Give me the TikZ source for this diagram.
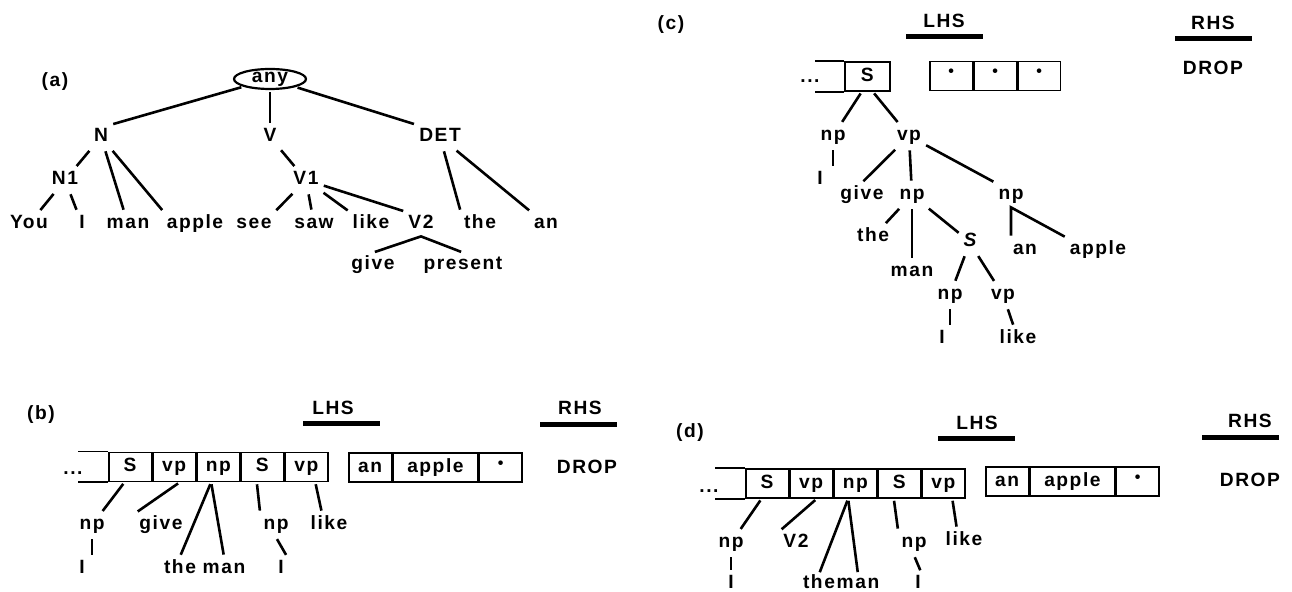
\documentclass[tikz,border=0pt]{standalone}
\usepackage{fontspec}
\setmainfont{Liberation Sans}[LetterSpace=8]
\usetikzlibrary{positioning,shapes.geometric}

\newcommand{\stardot}{\raisebox{2pt}{\fontsize{8}{8}\selectfont•}}

\begin{document}
\begin{tikzpicture}[x=0.5pt,y=-0.5pt]
\tikzset{
  word/.style={font=\bfseries\fontsize{9.6}{10}\selectfont,inner sep=1.5pt,text height=7pt,text depth=2pt},
  lowword/.style={word,inner sep=0pt,text depth=0.5pt},
  rootnode/.style={word,ellipse,draw,line width=1.1pt,minimum width=36pt,minimum height=10pt,inner sep=0pt,text height=5.2pt,text depth=1.6pt},
  cell/.style={word,draw,line width=0.8pt,minimum width=21.25pt,minimum height=14.5pt,inner sep=0pt},
  widecell/.style={cell,minimum width=42.5pt},
  rulebar/.style={fill,inner sep=0pt,minimum height=2.5pt,minimum width=38.5pt},
  branch/.style={line width=1.3pt,shorten >=1pt,shorten <=1pt},
  stripline/.style={line width=0.8pt}
}
\path[use as bounding box,fill=white] (0,0) rectangle (1292,592);
% (a) the category tree
\node[word] (a_lbl) at (55,82) {(a)};
\node[rootnode] (a_any) at (270,79) {any};
\node[word] (a_N) at (101,137) {N};
\node[word] (a_V) at (270,137) {V};
\node[word] (a_DET) at (440,137) {DET};
\node[word] (a_N1) at (65,180) {N1};
\node[word] (a_V1) at (306,180) {V1};
\node[word] (a_You) at (29,224) {You};
\node[word] (a_I) at (82,224) {I};
\node[word] (a_man) at (128,224) {man};
\node[word] (a_apple) at (195,224) {apple};
\node[word] (a_see) at (254,224) {see};
\node[word] (a_saw) at (314,224) {saw};
\node[word] (a_like) at (371,224) {like};
\node[word] (a_V2) at (421,224) {V2};
\node[word] (a_the) at (480,224) {the};
\node[word] (a_an) at (546,224) {an};
\node[word] (a_give) at (373,265) {give};
\node[word] (a_present) at (463,265) {present};
\draw[branch] (a_any) -- (a_N.north east);
\draw[branch] (a_any) -- (a_V);
\draw[branch] (a_any) -- (a_DET.north west);
\draw[branch] (a_N) -- (a_N1);
\draw[branch] (a_N) -- (a_man);
\draw[branch] (a_N) -- (a_apple.north west);
\draw[branch] (a_N1) -- (a_You);
\draw[branch] (a_N1) -- (a_I);
\draw[branch] (a_V) -- (a_V1);
\draw[branch] (a_V1) -- (a_see.north east);
\draw[branch] (a_V1) -- (a_saw);
\draw[branch] (a_V1) -- (a_like.north west);
\draw[branch] (a_V1) -- (a_V2.north west);
\draw[branch] (a_DET) -- (a_the.north west);
\draw[branch] (a_DET) -- (a_an.north west);
\draw[branch] (a_give.north) -- (a_V2.south) -- (a_present.north);
% (c) stack with one S
\node[word] (c_lbl) at (671,25) {(c)};
\node[word] (c_lhs) at (944,23) {LHS};
\node[rulebar] (c_lhsbar) at (944,37) {};
\node[word] (c_rhs) at (1213,25) {RHS};
\node[rulebar] (c_rhsbar) at (1213,39) {};
\node[word] (c_drop) at (1213,70) {DROP};
\node[cell,minimum width=22.5pt,anchor=west] (c_S) at (844,76.5) {S};
\draw[stripline] (c_S.north west) -- +(-29,0) (c_S.south west) -- +(-29,0);
\node[word,anchor=base] (c_dots) at (810,83) {...};
\node[cell,anchor=west] (c_q1) at (929,76) {\stardot};
\node[cell,right=0pt of c_q1] (c_q2) {\stardot};
\node[cell,right=0pt of c_q2] (c_q3) {\stardot};
\node[word] (c_np1) at (833,136) {np};
\node[word] (c_vp1) at (909,136) {vp};
\node[word] (c_I1) at (820,180) {I};
\node[word] (c_give) at (862,195) {give};
\node[word] (c_np2) at (912,195) {np};
\node[word] (c_np3) at (1011,195) {np};
\node[word] (c_the) at (873,237) {the};
\node[word] (c_man) at (912,272) {man};
\node[word] (c_S2) at (970,242) {\itshape S};
\node[word] (c_an) at (1025,250) {an};
\node[word] (c_apple) at (1098,250) {apple};
\node[word] (c_np4) at (950,295) {np};
\node[word] (c_vp2) at (1003,295) {vp};
\node[word] (c_I2) at (942,339) {I};
\node[word] (c_like) at (1018,339) {like};
\draw[branch] (c_S.-110) -- (c_np1);
\draw[branch] (c_S.-70) -- (c_vp1);
\draw[branch] (c_np1.south) -- (c_np1.south |- c_I1.north);
\draw[branch] (c_vp1) -- (c_give.north);
\draw[branch] (c_vp1) -- (c_np2);
\draw[branch] (c_vp1) -- (c_np3.north west);
\draw[branch] (c_np2) -- (c_the);
\draw[branch] (c_np2.south) -- (c_np2.south |- c_man.north);
\draw[branch] (c_np2) -- (c_S2);
\draw[branch] (c_np3.south |- c_an.north) -- (c_np3.south) -- (c_apple.north west);
\draw[branch] (c_S2) -- (c_np4);
\draw[branch] (c_S2.-60) -- (c_vp2);
\draw[branch] (c_np4.south) -- (c_np4.south |- c_I2.north);
\draw[branch] (c_vp2) -- (c_like);
% (b) stack before the drop
\node[word] (b_lbl) at (41,415) {(b)};
\node[word] (b_lhs) at (333,410) {LHS};
\node[rulebar] (b_lhsbar) at (341,424) {};
\node[word] (b_rhs) at (580,410) {RHS};
\node[rulebar] (b_rhsbar) at (578,425) {};
\node[word] (b_drop) at (587,469) {DROP};
\node[cell,anchor=west] (b_S1) at (108,467) {S};
\node[cell,right=0pt of b_S1] (b_vp1) {vp};
\node[cell,right=0pt of b_vp1] (b_np) {np};
\node[cell,right=0pt of b_np] (b_S2) {S};
\node[cell,right=0pt of b_S2] (b_vp2) {vp};
\draw[stripline] (b_S1.north west) -- +(-30,0) (b_S1.south west) -- +(-30,0);
\node[word,anchor=base] (b_dots) at (73,475) {...};
\node[cell,anchor=west] (b_an) at (348,467.5) {an};
\node[widecell,right=0pt of b_an] (b_apple) {apple};
\node[cell,right=0pt of b_apple] (b_star) {\stardot};
\node[word] (b_np1) at (92,525) {np};
\node[word] (b_give) at (161,525) {give};
\node[word] (b_np2) at (276,525) {np};
\node[word] (b_like) at (329,525) {like};
\node[word] (b_I1) at (82,569) {I};
\node[word] (b_the) at (180,569) {the};
\node[word] (b_man) at (224,569) {man};
\node[word] (b_I2) at (281,569) {I};
\draw[branch] (b_S1.-110) -- (b_np1);
\draw[branch] (b_vp1.-70) -- (b_give.north west);
\draw[branch] (b_np.-115) -- (b_the.north);
\draw[branch] (b_np.-115) -- (b_man.north);
\draw[branch] (b_S2.-110) -- (b_np2.north west);
\draw[branch] (b_vp2.-60) -- (b_like.120);
\draw[branch] (b_np1.south) -- (b_np1.south |- b_I1.north);
\draw[branch] (b_np2.south) -- (b_I2.north east);
% (d) stack after V2 is put back
\node[word] (d_lbl) at (690,433) {(d)};
\node[word] (d_lhs) at (977,425) {LHS};
\node[rulebar] (d_lhsbar) at (976,439) {};
\node[word] (d_rhs) at (1250,423) {RHS};
\node[rulebar] (d_rhsbar) at (1240,438) {};
\node[word] (d_drop) at (1250,482) {DROP};
\node[cell,anchor=west] (d_S1) at (745,483.5) {S};
\node[cell,right=0pt of d_S1] (d_vp1) {vp};
\node[cell,right=0pt of d_vp1] (d_np) {np};
\node[cell,right=0pt of d_np] (d_S2) {S};
\node[cell,right=0pt of d_S2] (d_vp2) {vp};
\draw[stripline] (d_S1.north west) -- +(-30,0) (d_S1.south west) -- +(-30,0);
\node[word,anchor=base] (d_dots) at (709,493) {...};
\node[cell,anchor=west] (d_an) at (985,481.5) {an};
\node[widecell,right=0pt of d_an] (d_apple) {apple};
\node[cell,right=0pt of d_apple] (d_star) {\stardot};
\node[word] (d_np1) at (731,543) {np};
\node[word] (d_V2) at (796,543) {V2};
\node[word] (d_np2) at (914,543) {np};
\node[word] (d_like) at (964,541) {like};
\node[lowword] (d_I1) at (731,582) {I};
\node[lowword] (d_the) at (819,582) {the};
\node[lowword] (d_man) at (858,582) {man};
\node[lowword] (d_I2) at (918,582) {I};
\draw[branch] (d_S1.-110) -- (d_np1);
\draw[branch] (d_vp1.-70) -- (d_V2.north west);
\draw[branch] (d_np.-115) -- (d_the.north);
\draw[branch] (d_np.-115) -- (d_man.north);
\draw[branch] (d_S2.-110) -- (d_np2.north west);
\draw[branch] (d_vp2.-60) -- (d_like.120);
\draw[branch] (d_np1.south) -- ([yshift=1pt]d_np1.south |- d_I1.north);
\draw[branch] (d_np2.south) -- ([yshift=1pt]d_I2.north east);
\end{tikzpicture}
\end{document}
